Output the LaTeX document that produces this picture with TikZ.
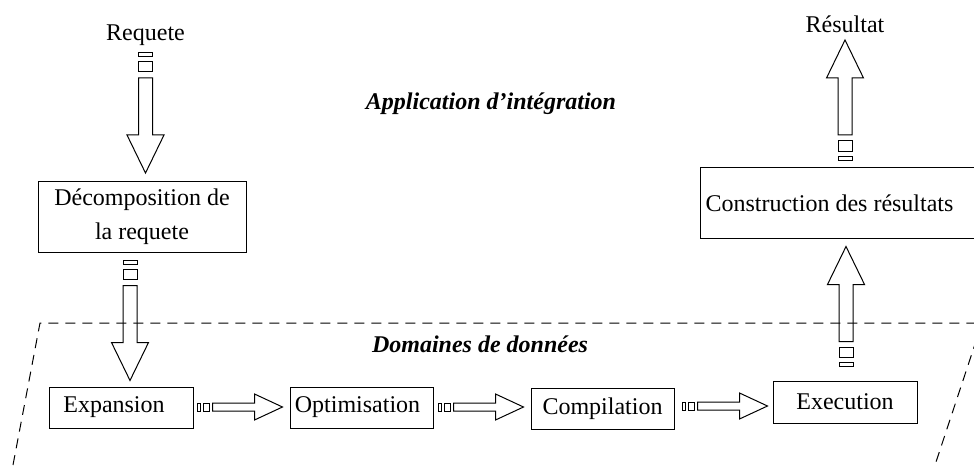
\documentclass[tikz,border=0pt]{standalone}
\usepackage{fontspec}
\setmainfont{Liberation Serif}
\usetikzlibrary{calc}
\newcommand\vblk[2]{%
  \begin{scope}[shift={#1},rotate=#2]
    \draw[arrline] (0,-7) rectangle (4,7);
    \draw[arrline] (9,-7) rectangle (19,7);
    \draw[arrline] (82,-18.5) -- (82,-7) -- (25,-7) -- (25,7) -- (82,7) -- (82,18.5) -- (120,0) -- cycle;
  \end{scope}}
\newcommand\hblk[1]{%
  \begin{scope}[shift={#1}]
    \draw[arrline] (0,-4) rectangle (3,4);
    \draw[arrline] (6,-4) rectangle (12,4);
    \draw[arrline] (57,-13) -- (57,-4) -- (15,-4) -- (15,4) -- (57,4) -- (57,13) -- (85,0) -- cycle;
  \end{scope}}
\begin{document}
\begin{tikzpicture}[x=1pt,y=-1pt,
  every node/.style={font=\fontsize{24}{34}\selectfont},
  box/.style={draw,line width=1pt,inner sep=0pt,align=center},
  lbl/.style={inner sep=0pt,anchor=base},
  ttl/.style={inner sep=0pt,anchor=base,font=\fontsize{24}{34}\selectfont\bfseries\itshape},
  arrline/.style={line width=1pt,line join=miter},
  bound/.style={dash pattern=on 10pt off 7pt,line width=1pt}]
\useasboundingbox (0,0) rectangle (974,468);
% boundary of the data domain
\draw[bound] (13,465) -- (40,323) -- (990,323);
\draw[bound] (982,323) -- (936,462);
% texts
\node[lbl] (req) at (145.5,41) {Requete};
\node[lbl] (res) at (845,33) {Résultat};
\node[ttl] (app) at (491,110) {Application d’intégration};
\node[ttl] (dom) at (480,352) {Domaines de données};
% boxes
\node[box,minimum width=208pt,minimum height=71pt] (dec) at (142,216.5) {Décomposition de\hspace{14pt}\\la requete\hspace{8pt}};
\node[box,minimum width=144pt,minimum height=41pt] (exp) at (121,407.5) {Expansion\hspace{14pt}};
\node[box,minimum width=143pt,minimum height=41pt] (opt) at (361.5,407.5) {Optimisation\hspace{8pt}};
\node[box,minimum width=143pt,minimum height=41pt] (comp) at (602.5,408.5) {Compilation};
\node[box,minimum width=144pt,minimum height=42pt] (exe) at (845,402) {Execution};
\node[box,minimum width=290pt,minimum height=71pt,anchor=north west] (con) at (700,167) {\makebox[280pt][l]{Construction des résultats}};
% block arrows
\vblk{($(req.base)+(0,12)$)}{-90}
\vblk{($(dec.south)+(-12,8)$)}{-90}
\hblk{($(exp.east)+(4,-0.5)$)}
\hblk{($(opt.east)+(5,-0.5)$)}
\hblk{($(comp.east)+(8,-2.5)$)}
\vblk{($(exe.north)+(1,-14)$)}{90}
\vblk{($(con.north west)+(145,-7)$)}{90}
\end{tikzpicture}
\end{document}
